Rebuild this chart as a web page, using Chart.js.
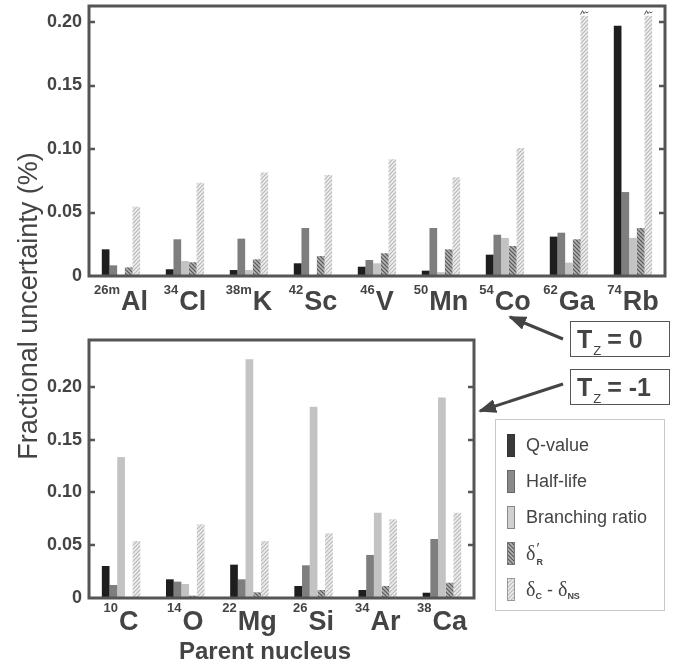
<!DOCTYPE html>
<html lang="en">
<head>
<meta charset="UTF-8">
<title>Fractional uncertainty by parent nucleus</title>
<script src="https://cdn.jsdelivr.net/npm/chart.js"></script>
<style>
    body { margin: 0; background: #fff; font-family: 'Liberation Sans', Arial, sans-serif; color: #444; }
    #page { position: relative; width: 675px; height: 668px; overflow: hidden; }
    canvas { position: absolute; left: 0; }
    #topChart { top: 0; }
    #botChart { top: 330px; }
    .ytitle { position: absolute; left: -172px; top: 290px; width: 400px; height: 32px; line-height: 32px;
              text-align: center; font-size: 27px; transform: rotate(-90deg); }
    .xtitle { position: absolute; left: 115px; top: 637px; width: 300px; text-align: center;
              font-size: 24px; font-weight: bold; line-height: 28px; }
    .tz { position: absolute; left: 570px; width: 92px; height: 34px; border: 1.5px solid #555;
          font-size: 25px; font-weight: bold; line-height: 34px; padding-left: 6px; white-space: nowrap; }
    .tz sub { font-size: 13px; font-weight: normal; vertical-align: -7px; margin-left: 1px; margin-right: 6px; }
    #legend { position: absolute; left: 495px; top: 419px; width: 168px; height: 190px; border: 1px solid #c8c8c8; }
    .item { position: absolute; left: 11px; height: 24px; display: flex; align-items: center; font-size: 18px; }
    .sw { width: 6px; height: 21px; border: 1px solid #777; margin-right: 11px; }
    .dl { font-family: 'Liberation Serif', serif; font-size: 20px; }
    .ss { position: relative; display: inline-block; width: 10px; height: 20px; vertical-align: -5px; }
    .ss .p { position: absolute; left: 1px; top: -5px; font-size: 15px; line-height: 15px; }
    .ss .r { position: absolute; left: 1px; bottom: -2px; font-size: 9px; line-height: 9px; font-weight: bold; }
    .item sub { font-size: 9px; font-weight: bold; vertical-align: -3px; }
</style>
</head>
<body>
<div id="page">
    <canvas id="topChart" width="675" height="330"></canvas>
    <canvas id="botChart" width="675" height="338"></canvas>

    <div class="ytitle">Fractional uncertainty (%)</div>
    <div class="xtitle">Parent nucleus</div>

    <svg width="675" height="668" style="position:absolute;left:0;top:0">
        <defs>
            <marker id="ah" markerUnits="userSpaceOnUse" markerWidth="18" markerHeight="14" refX="16" refY="7" orient="auto">
                <path d="M0,0 L18,7 L0,14 z" fill="#444"></path>
            </marker>
        </defs>
        <line x1="563" y1="339" x2="510" y2="317" stroke="#444" stroke-width="3" marker-end="url(#ah)"></line>
        <line x1="563" y1="384" x2="480" y2="411" stroke="#444" stroke-width="3" marker-end="url(#ah)"></line>
    </svg>

    <div class="tz" style="top:321px">T<sub>Z</sub>= 0</div>
    <div class="tz" style="top:369px">T<sub>Z</sub>= -1</div>

    <div id="legend"></div>
</div>

<script>
    // series shown in both panels
    const seriesNames = ['Q-value', 'Half-life', 'Branching ratio', "δ'R", 'δC - δNS'];

    // T_z = 0 panel
    const topMass = ['26m', '34', '38m', '42', '46', '50', '54', '62', '74'];
    const topSymbols = ['Al', 'Cl', 'K', 'Sc', 'V', 'Mn', 'Co', 'Ga', 'Rb'];
    const topQ = [0.021, 0.0053, 0.0047, 0.010, 0.0073, 0.0042, 0.0168, 0.031, 0.197];
    const topHalf = [0.0084, 0.0289, 0.0294, 0.0378, 0.0126, 0.0378, 0.0325, 0.0341, 0.0661];
    const topBranch = [0, 0.0118, 0.0047, 0, 0.010, 0.003, 0.030, 0.0105, 0.030];
    const topDeltaR = [0.0068, 0.0108, 0.0131, 0.0157, 0.0179, 0.021, 0.0236, 0.0289, 0.0378];
    const topDeltaC = [0.0546, 0.0735, 0.0814, 0.0795, 0.0919, 0.0777, 0.1008, 0.205, 0.205];

    // T_z = -1 panel
    const botMass = ['10', '14', '22', '26', '34', '38'];
    const botSymbols = ['C', 'O', 'Mg', 'Si', 'Ar', 'Ca'];
    const botQ = [0.0303, 0.0177, 0.0316, 0.0114, 0.0076, 0.005];
    const botHalf = [0.0123, 0.0155, 0.0177, 0.031, 0.0408, 0.0559];
    const botBranch = [0.1336, 0.0133, 0.2262, 0.1813, 0.0809, 0.1899];
    const botDeltaR = [0, 0.0022, 0.0054, 0.0076, 0.0114, 0.0145];
    const botDeltaC = [0.054, 0.0698, 0.054, 0.0613, 0.0746, 0.0809];

    const yTicks = [0, 0.05, 0.10, 0.15, 0.20];
    const topYMax = 0.2126;
    const botYMax = 0.2445;
    const brokenAbove = 0.2;   // δC bars cut off above this (Ga, Rb)

    const fam = "'Liberation Sans', Arial, sans-serif";
    Chart.defaults.font.family = fam;
    Chart.defaults.color = '#444';

    function hatchTile(bg, fg, back) {
        const c = document.createElement('canvas');
        c.width = c.height = 4;
        const g = c.getContext('2d');
        g.fillStyle = bg;
        g.fillRect(0, 0, 4, 4);
        g.strokeStyle = fg;
        g.lineWidth = 1.2;
        g.beginPath();
        if (back) {
            g.moveTo(-1, -1); g.lineTo(5, 5);
            g.moveTo(-1, 3); g.lineTo(1, 5);
            g.moveTo(3, -1); g.lineTo(5, 1);
        } else {
            g.moveTo(-1, 5); g.lineTo(5, -1);
            g.moveTo(-1, 1); g.lineTo(1, -1);
            g.moveTo(3, 5); g.lineTo(5, 3);
        }
        g.stroke();
        return c;
    }
    const tileR = hatchTile('#b2b2b2', '#585858', true);
    const tileC = hatchTile('#ededed', '#b9b9b9', false);

    // box round the plot + inward ticks on both sides
    const framePlugin = {
        id: 'frame',
        afterDraw(chart) {
            const { ctx, chartArea: a, scales: { y } } = chart;
            ctx.save();
            ctx.strokeStyle = '#555';
            ctx.lineWidth = 3;
            ctx.strokeRect(a.left, a.top, a.right - a.left, a.bottom - a.top);
            ctx.lineWidth = 2.5;
            y.ticks.forEach(t => {
                if (t.value === 0) return;
                const py = Math.round(y.getPixelForValue(t.value));
                ctx.beginPath();
                ctx.moveTo(a.left, py); ctx.lineTo(a.left + 6, py);
                ctx.moveTo(a.right, py); ctx.lineTo(a.right - 6, py);
                ctx.stroke();
            });
            ctx.restore();
        }
    };

    // nucleus labels: small mass number + big symbol
    const isoLabelPlugin = {
        id: 'isoLabels',
        afterDraw(chart, args, opts) {
            const { ctx, chartArea: a, scales: { x } } = chart;
            ctx.save();
            ctx.fillStyle = '#444';
            opts.symbols.forEach((sym, i) => {
                const m = opts.masses[i];
                ctx.font = 'bold 13px ' + fam;
                const wm = ctx.measureText(m).width;
                ctx.font = 'bold 27px ' + fam;
                const ws = ctx.measureText(sym).width;
                const x0 = x.getPixelForTick(i) - (wm + 1 + ws) / 2;
                ctx.font = 'bold 13px ' + fam;
                ctx.fillText(m, x0, a.bottom + opts.supDy);
                ctx.font = 'bold 27px ' + fam;
                ctx.fillText(sym, x0 + wm + 1, a.bottom + opts.symDy);
            });
            ctx.restore();
        }
    };

    // little break marks on top of the cut bars
    const breakPlugin = {
        id: 'breakMarks',
        afterDatasetsDraw(chart, args, opts) {
            if (!opts.enabled) return;
            const ctx = chart.ctx;
            const meta = chart.getDatasetMeta(4);
            ctx.save();
            ctx.strokeStyle = '#555';
            ctx.lineWidth = 1;
            meta.data.forEach((bar, i) => {
                if (chart.data.datasets[4].data[i] <= brokenAbove) return;
                const { x, y, width } = bar.getProps(['x', 'y', 'width'], true);
                const L = x - width / 2, T = y - 1;
                ctx.beginPath();
                ctx.moveTo(L, T);
                ctx.lineTo(L + 2, T - 4);
                ctx.lineTo(L + 3.5, T - 1);
                ctx.lineTo(L + 5, T - 3);
                ctx.lineTo(L + 6.5, T - 1.5);
                ctx.lineTo(L + 8, T - 3);
                ctx.stroke();
            });
            ctx.restore();
        }
    };

    function makeDatasets(ctx, q, half, br, dr, dc) {
        const common = { borderWidth: 0, categoryPercentage: 0.6, barPercentage: 1.0 };
        return [
            { ...common, label: seriesNames[0], data: q, backgroundColor: '#1e1e1e' },
            { ...common, label: seriesNames[1], data: half, backgroundColor: '#7e7e7e' },
            { ...common, label: seriesNames[2], data: br, backgroundColor: '#c3c3c3' },
            { ...common, label: seriesNames[3], data: dr, backgroundColor: ctx.createPattern(tileR, 'repeat') },
            { ...common, label: seriesNames[4], data: dc, backgroundColor: ctx.createPattern(tileC, 'repeat') }
        ];
    }

    function makeChart(id, labels, masses, sets, yMax, pad, xHeight, supDy, symDy, breaks) {
        const ctx = document.getElementById(id).getContext('2d');
        return new Chart(ctx, {
            type: 'bar',
            data: { labels: labels, datasets: makeDatasets(ctx, ...sets) },
            options: {
                responsive: false,
                animation: false,
                layout: { padding: pad },
                scales: {
                    x: {
                        grid: { display: false, drawTicks: false },
                        border: { display: false },
                        ticks: { display: false },
                        afterFit: s => { s.height = xHeight; s.paddingLeft = 0; s.paddingRight = 0; }
                    },
                    y: {
                        min: 0,
                        max: yMax,
                        grid: { display: false, drawTicks: false },
                        border: { display: false },
                        afterBuildTicks: s => { s.ticks = yTicks.map(v => ({ value: v })); },
                        ticks: {
                            padding: 7,
                            font: { size: 18, weight: 'bold' },
                            color: '#444',
                            callback: v => v === 0 ? '0' : v.toFixed(2)
                        },
                        afterFit: s => { s.width = 89; s.paddingTop = 0; s.paddingBottom = 0; }
                    }
                },
                plugins: {
                    legend: { display: false },
                    tooltip: { enabled: false },
                    isoLabels: { masses: masses, symbols: labels, supDy: supDy, symDy: symDy },
                    breakMarks: { enabled: breaks }
                }
            },
            plugins: [framePlugin, isoLabelPlugin, breakPlugin]
        });
    }

    makeChart('topChart', topSymbols, topMass,
        [topQ, topHalf, topBranch, topDeltaR, topDeltaC],
        topYMax, { top: 6, right: 10, left: 0, bottom: 0 }, 54, 18, 34, true);

    makeChart('botChart', botSymbols, botMass,
        [botQ, botHalf, botBranch, botDeltaR, botDeltaC],
        botYMax, { top: 10, right: 201, left: 0, bottom: 0 }, 70, 14, 32, false);

    // legend box
    const legendText = [
        'Q-value',
        'Half-life',
        'Branching ratio',
        '<span class="dl">δ</span><span class="ss"><span class="p">′</span><span class="r">R</span></span>',
        '<span class="dl">δ</span><sub>C</sub>&nbsp;-&nbsp;<span class="dl">δ</span><sub>NS</sub>'
    ];
    const swatchFill = [
        'background:#3a3a3a;border-color:#333',
        'background:#8a8a8a;border-color:#666',
        'background:#d0d0d0;border-color:#888',
        'background-image:url(' + tileR.toDataURL() + ');border-color:#777',
        'background-image:url(' + tileC.toDataURL() + ');border-color:#999'
    ];
    const legend = document.getElementById('legend');
    legendText.forEach((t, i) => {
        const row = document.createElement('div');
        row.className = 'item';
        row.style.top = (13 + i * 36) + 'px';
        row.innerHTML = '<div class="sw" style="' + swatchFill[i] + '"></div><span>' + t + '</span>';
        legend.appendChild(row);
    });
</script>
</body>
</html>
